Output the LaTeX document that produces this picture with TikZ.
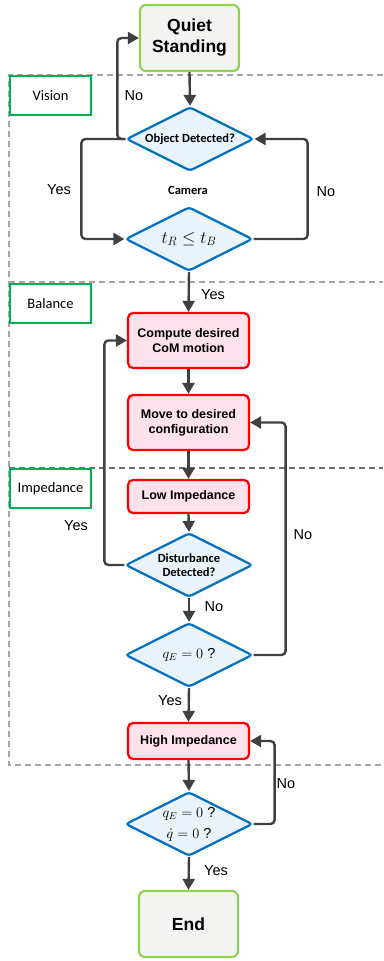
\documentclass[tikz,border=0pt]{standalone}
\usepackage{fontspec}
\setmainfont{Liberation Sans}
\newfontfamily\carlito{Carlito}
\usetikzlibrary{shapes.geometric,arrows.meta}
\definecolor{arrowc}{HTML}{404040}
\definecolor{startgreen}{HTML}{92D050}
\definecolor{startfill}{HTML}{F3F4F1}
\definecolor{lanegreen}{HTML}{00B050}
\definecolor{decblue}{HTML}{0070C0}
\definecolor{decfill}{HTML}{EAF2FA}
\definecolor{procred}{HTML}{FF0000}
\definecolor{pinkfill}{HTML}{FDE1EC}
\definecolor{sepgray}{HTML}{A6A6A6}
\definecolor{sepdark}{HTML}{6F6F6F}
\tikzset{
  startbox/.style={draw=startgreen, fill=startfill, line width=2.2pt, rounded corners=6pt,
    minimum width=99pt, minimum height=66pt, inner sep=0pt,
    font=\fontsize{17.5}{21}\selectfont\bfseries, align=center},
  procbox/.style={draw=procred, fill=pinkfill, line width=2.2pt, rounded corners=5pt,
    minimum width=121pt, inner sep=0pt,
    font=\fontsize{12.5}{15}\selectfont\bfseries, align=center},
  decision/.style={diamond, draw=decblue, fill=decfill, line width=2.2pt,
    minimum width=127pt, minimum height=64pt, inner sep=0pt, aspect=2, rounded corners=3pt,
    font=\carlito\bfseries\fontsize{12.5}{14}\selectfont, align=center},
  lane/.style={draw=lanegreen, line width=2pt, minimum width=81pt, minimum height=39pt,
    inner sep=0pt, font=\carlito\fontsize{14.5}{17}\selectfont},
  yn/.style={font=\fontsize{14.5}{17}\selectfont, inner sep=0pt},
  arr/.style={draw=arrowc, line width=2.4pt, -{Triangle[length=11pt,width=12pt]}, rounded corners=4pt},
  sep/.style={draw=sepgray, dash pattern=on 6pt off 4pt, line width=1.2pt},
  mathtxt/.style={font=\fontsize{14.5}{18}\selectfont}
}
\begin{document}
\begin{tikzpicture}[x=1pt,y=-1pt]
\useasboundingbox (0,0) rectangle (383,961);

% lane separators
\draw[sep] (383,75) -- (9,75) -- (9,765) -- (383,765);
\draw[sep] (9,282) -- (383,282);
\draw[sep, draw=sepdark] (9,468) -- (383,468);

% lane labels
\node[lane, anchor=north west] (lvision) at (9,75) {Vision};
\node[lane, anchor=north west] (lbalance) at (9,283) {Balance};
\node[lane, anchor=north west] (limped) at (9,468) {Impedance};

% nodes
\node[startbox] (qs) at (189.5,38) {Quiet\\Standing};
\node[decision] (d1) at (190,139) {Object Detected?};
\node[font=\carlito\bfseries\fontsize{12.5}{14}\selectfont] (cam) at (188,190) {Camera};
\node[decision, font=\fontsize{16.5}{19}\selectfont] (d2) at (189,239) {$t_R \leq t_B$};
\node[procbox, minimum height=55pt] (cm) at (188.5,340.5) {Compute desired\\CoM motion};
\node[procbox, minimum height=55pt] (mv) at (188.5,422.5) {Move to desired\\configuration};
\node[procbox, minimum height=33pt] (li) at (188.5,496.5) {Low Impedance};
\node[decision] (d3) at (189,565) {Disturbance\\Detected?};
\node[decision, mathtxt] (d4) at (189,655) {$q_E = 0$ ?};
\node[procbox, minimum height=36pt] (hi) at (188.5,741) {High Impedance};
\node[decision, mathtxt] (d5) at (189,824) {$q_E = 0$ ?\\[3pt]$\dot{q} = 0$ ?};
\node[startbox] (end) at (188.5,924) {End};

% connectors
\draw[arr] (qs.south) -- (d1.north);
\draw[arr] (d1.west) -- ++(-8,0) |- (qs.west);
\draw[arr] (d1.west) -- ++(-44,0) |- (d2.west);
\draw[arr] (d2.east) -- ++(54,0) |- (d1.east);
\draw[arr] (d2.south) -- (cm.north);
\draw[arr] (cm.south) -- (mv.north);
\draw[arr] (mv.south) -- (li.north);
\draw[arr] (li.south) -- (d3.north);
\draw[arr] (d3.west) -- ++(-20,0) |- (cm.west);
\draw[arr] (d3.south) -- (d4.north);
\draw[arr] (d4.east) -- ++(32,0) |- (mv.east);
\draw[arr] (d4.south) -- (hi.north);
\draw[arr] (hi.south) -- (d5.north);
\draw[arr] (d5.east) -- ++(21,0) |- (hi.east);
\draw[arr] (d5.south) -- (end.north);

% labels
\node[yn] (n1) at (134,96) {No};
\node[yn] (y1) at (59,190) {Yes};
\node[yn] (n2) at (326,192) {No};
\node[yn] (y2) at (213,295) {Yes};
\node[yn] (y3) at (76,526) {Yes};
\node[yn] (n3) at (303,535) {No};
\node[yn] (n4) at (214,607) {No};
\node[yn] (y4) at (170,701) {Yes};
\node[yn] (n5) at (286,784) {No};
\node[yn] (y5) at (216,871) {Yes};
\end{tikzpicture}
\end{document}
